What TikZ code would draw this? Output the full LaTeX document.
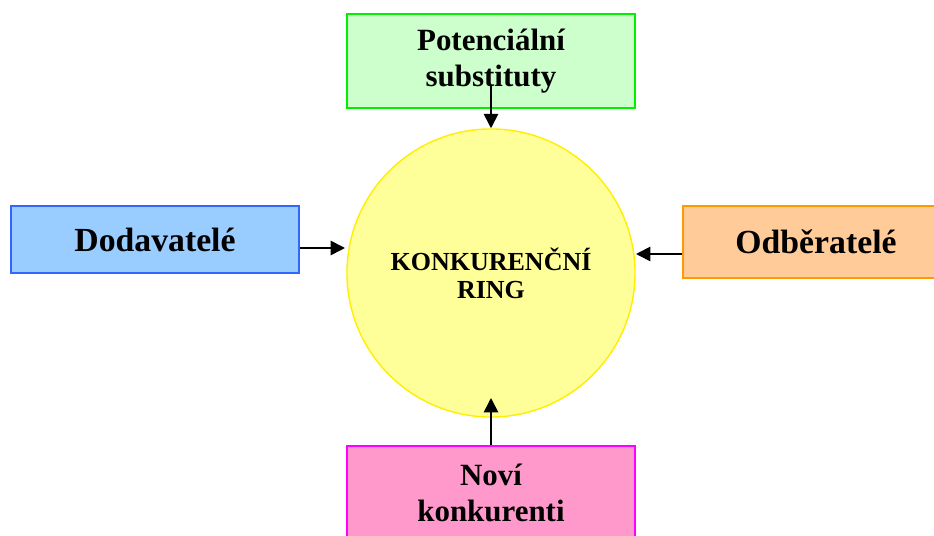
\documentclass[tikz,border=0pt]{standalone}
\usepackage{fontspec}
\setmainfont{Liberation Serif}
\usetikzlibrary{arrows.meta,positioning}

\definecolor{subline}{HTML}{00F000}
\definecolor{subfill}{HTML}{CCFFCC}
\definecolor{dodline}{HTML}{3366FF}
\definecolor{dodfill}{HTML}{99CCFF}
\definecolor{odbline}{HTML}{FF9900}
\definecolor{odbfill}{HTML}{FFCC99}
\definecolor{novline}{HTML}{FF00FF}
\definecolor{novfill}{HTML}{FF99CC}
\definecolor{ringline}{HTML}{FFEE00}
\definecolor{ringfill}{HTML}{FFFF99}

\tikzset{
  box/.style={draw, line width=1.4pt, minimum width=7.2cm, align=center,
    inner sep=0pt, font=\bfseries},
  arr/.style={-{Triangle[length=0.36cm, width=0.36cm]}, line width=1.2pt}
}

\begin{document}
\begin{tikzpicture}[x=0.025cm, y=-0.025cm]
        % the page
        \useasboundingbox (0,0) rectangle (934,536);
        \clip (0,0) rectangle (934,536);

        % the ring in the middle
        \node[circle, draw=ringline, fill=ringfill, line width=1pt, minimum size=7.2cm,
              align=center, font=\fontsize{18.5}{20}\selectfont\bfseries] (ring) at (491,273)
              {KONKURENČNÍ\\RING};

        % the four forces
        \node[box, draw=subline, fill=subfill, minimum height=2.35cm,
              font=\fontsize{22}{26}\selectfont\bfseries] (sub) at (491,61)
              {Potenciální\\substituty};
        \node[box, draw=dodline, fill=dodfill, minimum height=1.675cm,
              font=\fontsize{24}{28}\selectfont\bfseries] (dod) at (155,239.5) {Dodavatelé};
        \node[box, draw=odbline, fill=odbfill, minimum height=1.8cm, minimum width=6.65cm,
              font=\fontsize{24}{28}\selectfont\bfseries] (odb) at (816,242) {Odběratelé};
        \node[box, draw=novline, fill=novfill, minimum height=2.35cm,
              font=\fontsize{22}{26}\selectfont\bfseries] (nov) at (491,493)
              {Noví\\konkurenti};

        % where the arrows start and end
        \coordinate (subfrom) at (491,85);
        \coordinate (dodto) at (345,248);
        \coordinate (odbto) at (636,254);
        \coordinate (novto) at (491,398);

        \draw[arr] (subfrom) -- (ring.north);
        \draw[arr] (dod.east |- dodto) -- (dodto);
        \draw[arr] (odb.west |- odbto) -- (odbto);
        \draw[arr] (nov.north) -- (novto);
      \end{tikzpicture}
\end{document}
